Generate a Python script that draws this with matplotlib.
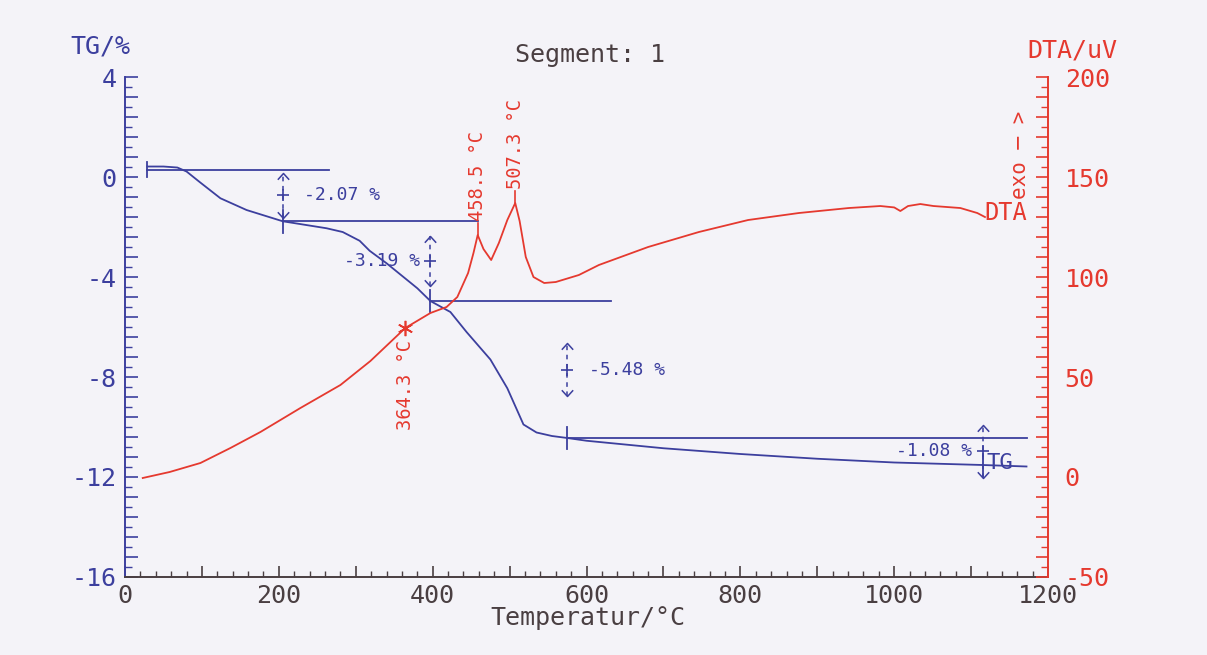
import numpy as np
import matplotlib
matplotlib.use("Agg")
import matplotlib.pyplot as plt
from matplotlib.path import Path
from matplotlib.ticker import MultipleLocator, FuncFormatter

# ---- measured data -------------------------------------------------------
temp_tg = [29, 50, 68, 80, 97, 124, 158, 205, 262, 283, 305, 318, 340, 358,
           380, 397, 423, 444, 475, 497, 518, 535, 555, 575, 600, 700, 800,
           900, 1000, 1115, 1172]
tg = [0.42, 0.42, 0.38, 0.22, -0.2, -0.85, -1.32, -1.77, -2.05, -2.2, -2.55,
      -2.95, -3.45, -3.9, -4.45, -4.96, -5.4, -6.2, -7.3, -8.45, -9.9, -10.22,
      -10.36, -10.44, -10.55, -10.85, -11.08, -11.27, -11.42, -11.52, -11.58]

temp_dta = [23, 58, 98, 137, 176, 228, 280, 319, 364.3, 397, 418, 432, 446,
            453, 458.5, 466, 476, 486, 497, 507.3, 513, 521, 531, 545, 560,
            590, 616, 680, 746, 810, 876, 941, 982, 1000, 1008, 1018, 1034,
            1051, 1086, 1108, 1118]
dta = [-0.5, 2.5, 7, 14.5, 22.5, 34.5, 46, 58, 74.5, 82, 85, 90, 102, 112,
       121, 114, 108.5, 117, 128.5, 137, 128, 110, 100, 97, 97.5, 101, 106,
       115, 122.5, 128.5, 132, 134.5, 135.5, 134.8, 133, 135.5, 136.5, 135.5,
       134.5, 132, 130]

# mass-loss steps evaluated on the TG curve
tg_start_level = 0.3
step_temps = [205, 397, 575, 1115]
step_losses = [-2.07, -3.19, -5.48, -1.08]
level_spans = [(29, 265), (205, 459), (397, 632), (575, 1172)]

# characteristic DTA temperatures
onset_temp = 364.3
peak_temps = [458.5, 507.3]

# ---- style ---------------------------------------------------------------
BLUE = "#3c3f9e"
RED = "#e5392f"
DARK = "#4a3f42"
BG = "#f4f3f8"
FONT = "DejaVu Sans Mono"
plt.rcParams["font.family"] = [FONT]

fig = plt.figure(figsize=(12.07, 6.55), dpi=100, facecolor=BG)
ax = fig.add_axes([0.1036, 0.1191, 0.7647, 0.7633])
ax.set_facecolor(BG)
ax2 = ax.twinx()

ax.set_xlim(0, 1200)
ax.set_ylim(-16, 4)
ax2.set_ylim(-50, 200)

for a in (ax, ax2):
    a.spines["top"].set_visible(False)
ax.spines["right"].set_visible(False)
ax2.spines["left"].set_visible(False)
ax2.spines["bottom"].set_visible(False)
ax.spines["left"].set_color(BLUE)
ax.spines["bottom"].set_color(DARK)
ax2.spines["right"].set_color(RED)
for s in (ax.spines["left"], ax.spines["bottom"], ax2.spines["right"]):
    s.set_linewidth(1.4)

# x ticks: every 20 small, every 100 taller, labels every 200
ax.xaxis.set_major_locator(MultipleLocator(100))
ax.xaxis.set_minor_locator(MultipleLocator(20))
ax.xaxis.set_major_formatter(FuncFormatter(
    lambda v, p: f"{int(round(v))}" if int(round(v)) % 200 == 0 else ""))
ax.tick_params(axis="x", which="major", direction="in", length=8, width=1.2,
               color=DARK, labelcolor=DARK, labelsize=18, pad=5)
ax.tick_params(axis="x", which="minor", direction="in", length=4, width=1.0,
               color=DARK)

# TG ticks
ax.yaxis.set_major_locator(MultipleLocator(0.8))
ax.yaxis.set_minor_locator(MultipleLocator(0.4))
ax.yaxis.set_major_formatter(FuncFormatter(
    lambda v, p: f"{int(round(v))}" if abs(v / 4 - round(v / 4)) < 1e-6 else ""))
ax.tick_params(axis="y", which="major", direction="in", length=9, width=1.2,
               color=BLUE, labelcolor=BLUE, labelsize=18, pad=6)
ax.tick_params(axis="y", which="minor", direction="in", length=5, width=1.0,
               color=BLUE)

# DTA ticks
ax2.yaxis.set_major_locator(MultipleLocator(10))
ax2.yaxis.set_minor_locator(MultipleLocator(5))
ax2.yaxis.set_major_formatter(FuncFormatter(
    lambda v, p: f"{int(round(v))}" if int(round(v)) % 50 == 0 else ""))
ax2.tick_params(axis="y", which="major", direction="in", length=9, width=1.2,
                color=RED, labelcolor=RED, labelsize=18, pad=12)
ax2.tick_params(axis="y", which="minor", direction="in", length=5, width=1.0,
                color=RED)

# ---- curves --------------------------------------------------------------
ax.plot(temp_tg, tg, color=BLUE, lw=1.3, zorder=3)
ax2.plot(temp_dta, dta, color=RED, lw=1.3, zorder=3)

# ---- TG step evaluation --------------------------------------------------
up_chevron = Path([(-1, -1.1), (0, 0), (1, -1.1)],
                  [Path.MOVETO, Path.LINETO, Path.LINETO])
down_chevron = Path([(-1, 1.1), (0, 0), (1, 1.1)],
                    [Path.MOVETO, Path.LINETO, Path.LINETO])
arrow_half = [0.9, 1.0, 1.05, 1.05]
label_side = ["right", "left", "right", "left"]

levels = [tg_start_level]
for loss in step_losses:
    levels.append(levels[-1] + loss)

# start mark of the evaluation
ax.plot([temp_tg[0], temp_tg[0]], [tg_start_level + 0.3, tg_start_level - 0.3],
        color=BLUE, lw=1.3)

for i, (t, loss) in enumerate(zip(step_temps, step_losses)):
    upper, lower = levels[i], levels[i + 1]
    x0, x1 = level_spans[i]
    ax.plot([x0, x1], [upper, upper], color=BLUE, lw=1.3, zorder=2)
    mid = (upper + lower) / 2
    h = arrow_half[i]
    ax.plot([t, t], [mid - h, mid + h], color=BLUE, lw=1.1,
            ls=(0, (3, 3)), zorder=2)
    ax.plot([t], [mid + h], marker=up_chevron, ms=9, mec=BLUE, mfc="none",
            mew=1.1)
    ax.plot([t], [mid - h], marker=down_chevron, ms=9, mec=BLUE, mfc="none",
            mew=1.1)
    ax.plot([t], [mid], marker="+", ms=8, mec=BLUE, mew=1.2)
    ax.plot([t, t], [lower + 0.45, lower - 0.45], color=BLUE, lw=1.3)
    txt = f"{loss:.2f} %"
    if label_side[i] == "right":
        ax.text(t + 28, mid, txt, color=BLUE, fontsize=13, ha="left",
                va="center")
    else:
        ax.text(t - 14, mid, txt, color=BLUE, fontsize=13, ha="right",
                va="center")

ax.text(temp_tg[-1] - 52, tg[-1] + 0.12, "TG", color=BLUE, fontsize=16,
        ha="left", va="center")

# ---- DTA characteristic points --------------------------------------------
onset_val = np.interp(onset_temp, temp_dta, dta)
ax2.plot([onset_temp], [onset_val], marker=(6, 2, 0), ms=11, mec=RED,
         mew=1.2, zorder=4)
ax2.text(onset_temp, onset_val - 6, f"{onset_temp:.1f} °C", color=RED,
         fontsize=13.5, rotation=90, ha="center", va="top")

for pt in peak_temps:
    pv = np.interp(pt, temp_dta, dta)
    ax2.plot([pt, pt], [pv, pv + 6], color=RED, lw=1.2)
    ax2.text(pt, pv + 7, f"{pt:.1f} °C", color=RED, fontsize=13.5,
             rotation=90, ha="center", va="bottom")

ax2.text(temp_dta[-1] - 1, dta[-1] + 2, "DTA", color=RED, fontsize=17,
         ha="left", va="center")
ax2.text(1163, 139, "exo ─ >", color=RED, fontsize=15, rotation=90,
         ha="center", va="bottom")

# ---- axis titles -----------------------------------------------------------
fig.text(100 / 1207, 1 - 47 / 655, "TG/%", color=BLUE, fontsize=18,
         ha="center", va="center")
fig.text(1072 / 1207, 1 - 50 / 655, "DTA/uV", color=RED, fontsize=18,
         ha="center", va="center")
fig.text(590 / 1207, 1 - 55 / 655, "Segment: 1", color=DARK, fontsize=18,
         ha="center", va="center")
fig.text(588 / 1207, 1 - 618 / 655, "Temperatur/°C", color=DARK, fontsize=18,
         ha="center", va="center")

fig.savefig("out.png", dpi=100, facecolor=BG)
